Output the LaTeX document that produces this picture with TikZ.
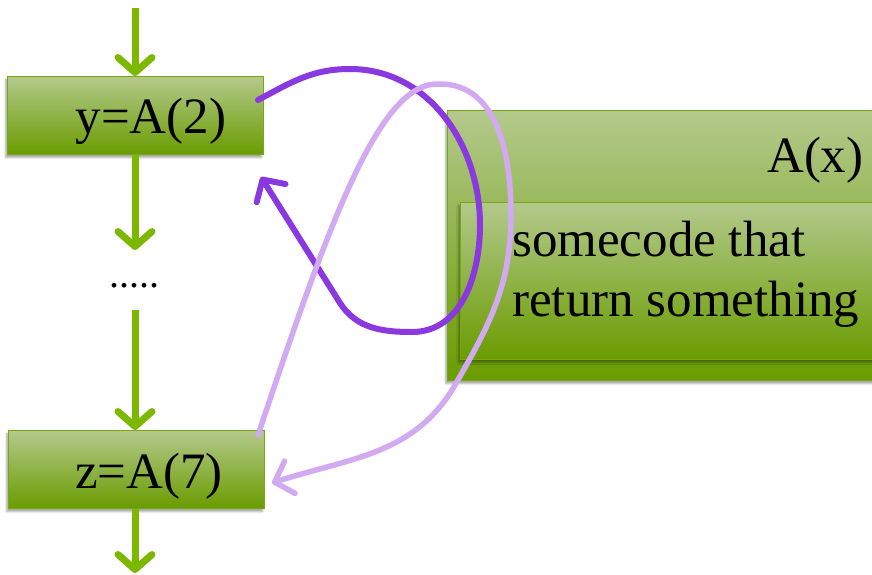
\documentclass[tikz,border=0pt]{standalone}
\usepackage{fontspec}
\setmainfont{Liberation Serif}
\usetikzlibrary{arrows.meta,shadows.blur}
\definecolor{boxtop}{HTML}{B3C98C}
\definecolor{boxbot}{HTML}{6A9C00}
\definecolor{boxline}{HTML}{78A810}
\definecolor{flowgreen}{HTML}{7DB800}
\definecolor{callpurple}{HTML}{8A38E0}
\definecolor{retpurple}{HTML}{D2AAF2}
\tikzset{
  gbox/.style={draw=boxline, line width=1.2pt, top color=boxtop, bottom color=boxbot,
    blur shadow={shadow xshift=-2pt, shadow yshift=-3pt, shadow blur steps=6, shadow opacity=35},
    inner sep=0pt},
  big/.style={font=\fontsize{51}{60}\selectfont},
  flow/.style={draw=flowgreen, line width=7pt,
    -{Straight Barb[length=15pt,width=34pt,line width=7pt,round]}},
  call/.style={draw=callpurple, line width=6pt, line cap=round,
    -{Straight Barb[length=16pt,width=34pt,line width=6pt,round]}},
  ret/.style={draw=retpurple, line width=5.5pt, line cap=round,
    -{Straight Barb[length=16pt,width=34pt,line width=5.5pt,round]}},
}
\begin{document}
\begin{tikzpicture}[x=1pt,y=-1pt]
\useasboundingbox (0,0) rectangle (872,575);
\clip (0,0) rectangle (872,575);
% function body A(x)
\node[gbox, minimum width=440pt, minimum height=270pt, anchor=north west] (fun) at (447,110) {};
\node[big, anchor=base east] (fname) at (867,172) {A(x)};
\node[gbox, minimum width=420pt, minimum height=157pt, anchor=north west] (body) at (460,202) {};
\node[big, anchor=north west, align=left, inner sep=0pt] (code) at (512,221)
  {somecode that\\return something};
% caller statements
\node[gbox, minimum width=256pt, minimum height=78pt, anchor=north west] (y2) at (7,76) {};
\node[big, anchor=base] (y2t) at (151,133) {y=A(2)};
\node[gbox, minimum width=256pt, minimum height=78pt, anchor=north west] (z7) at (8,430) {};
\node[big, anchor=base] (z7t) at (149,488) {z=A(7)};
\node[font=\fontsize{40}{48}\selectfont, anchor=base] (dots) at (134,287) {.....};
\coordinate (top) at (135,8);
\coordinate (bottom) at (135,573);
% control flow
\draw[flow] (top) -- (y2.north -| top);
\draw[flow] (y2.south -| top) -- (135,250);
\draw[flow] (135,310) -- (z7.north -| top);
\draw[flow] (z7.south -| top) -- (bottom);
% first call and its return
\coordinate (c1s) at (258,100);
\coordinate (c1e) at (261,177);
\draw[call] (c1s) to[out=28,in=180] (350,69) to[out=0,in=90] (480,225)
  to[out=-90,in=0] (412,332) to[out=180,in=-57] (340,303) -- (c1e);
% second call and its return
\coordinate (c2s) at (258,435);
\coordinate (c2e) at (272,483);
\draw[ret] (c2s) .. controls (330,220) and (380,80) .. (440,84)
  to[out=0,in=90] (511,215)
  to[out=-90,in=60] (455,385) to[out=-120,in=18] (c2e);
\end{tikzpicture}
\end{document}
